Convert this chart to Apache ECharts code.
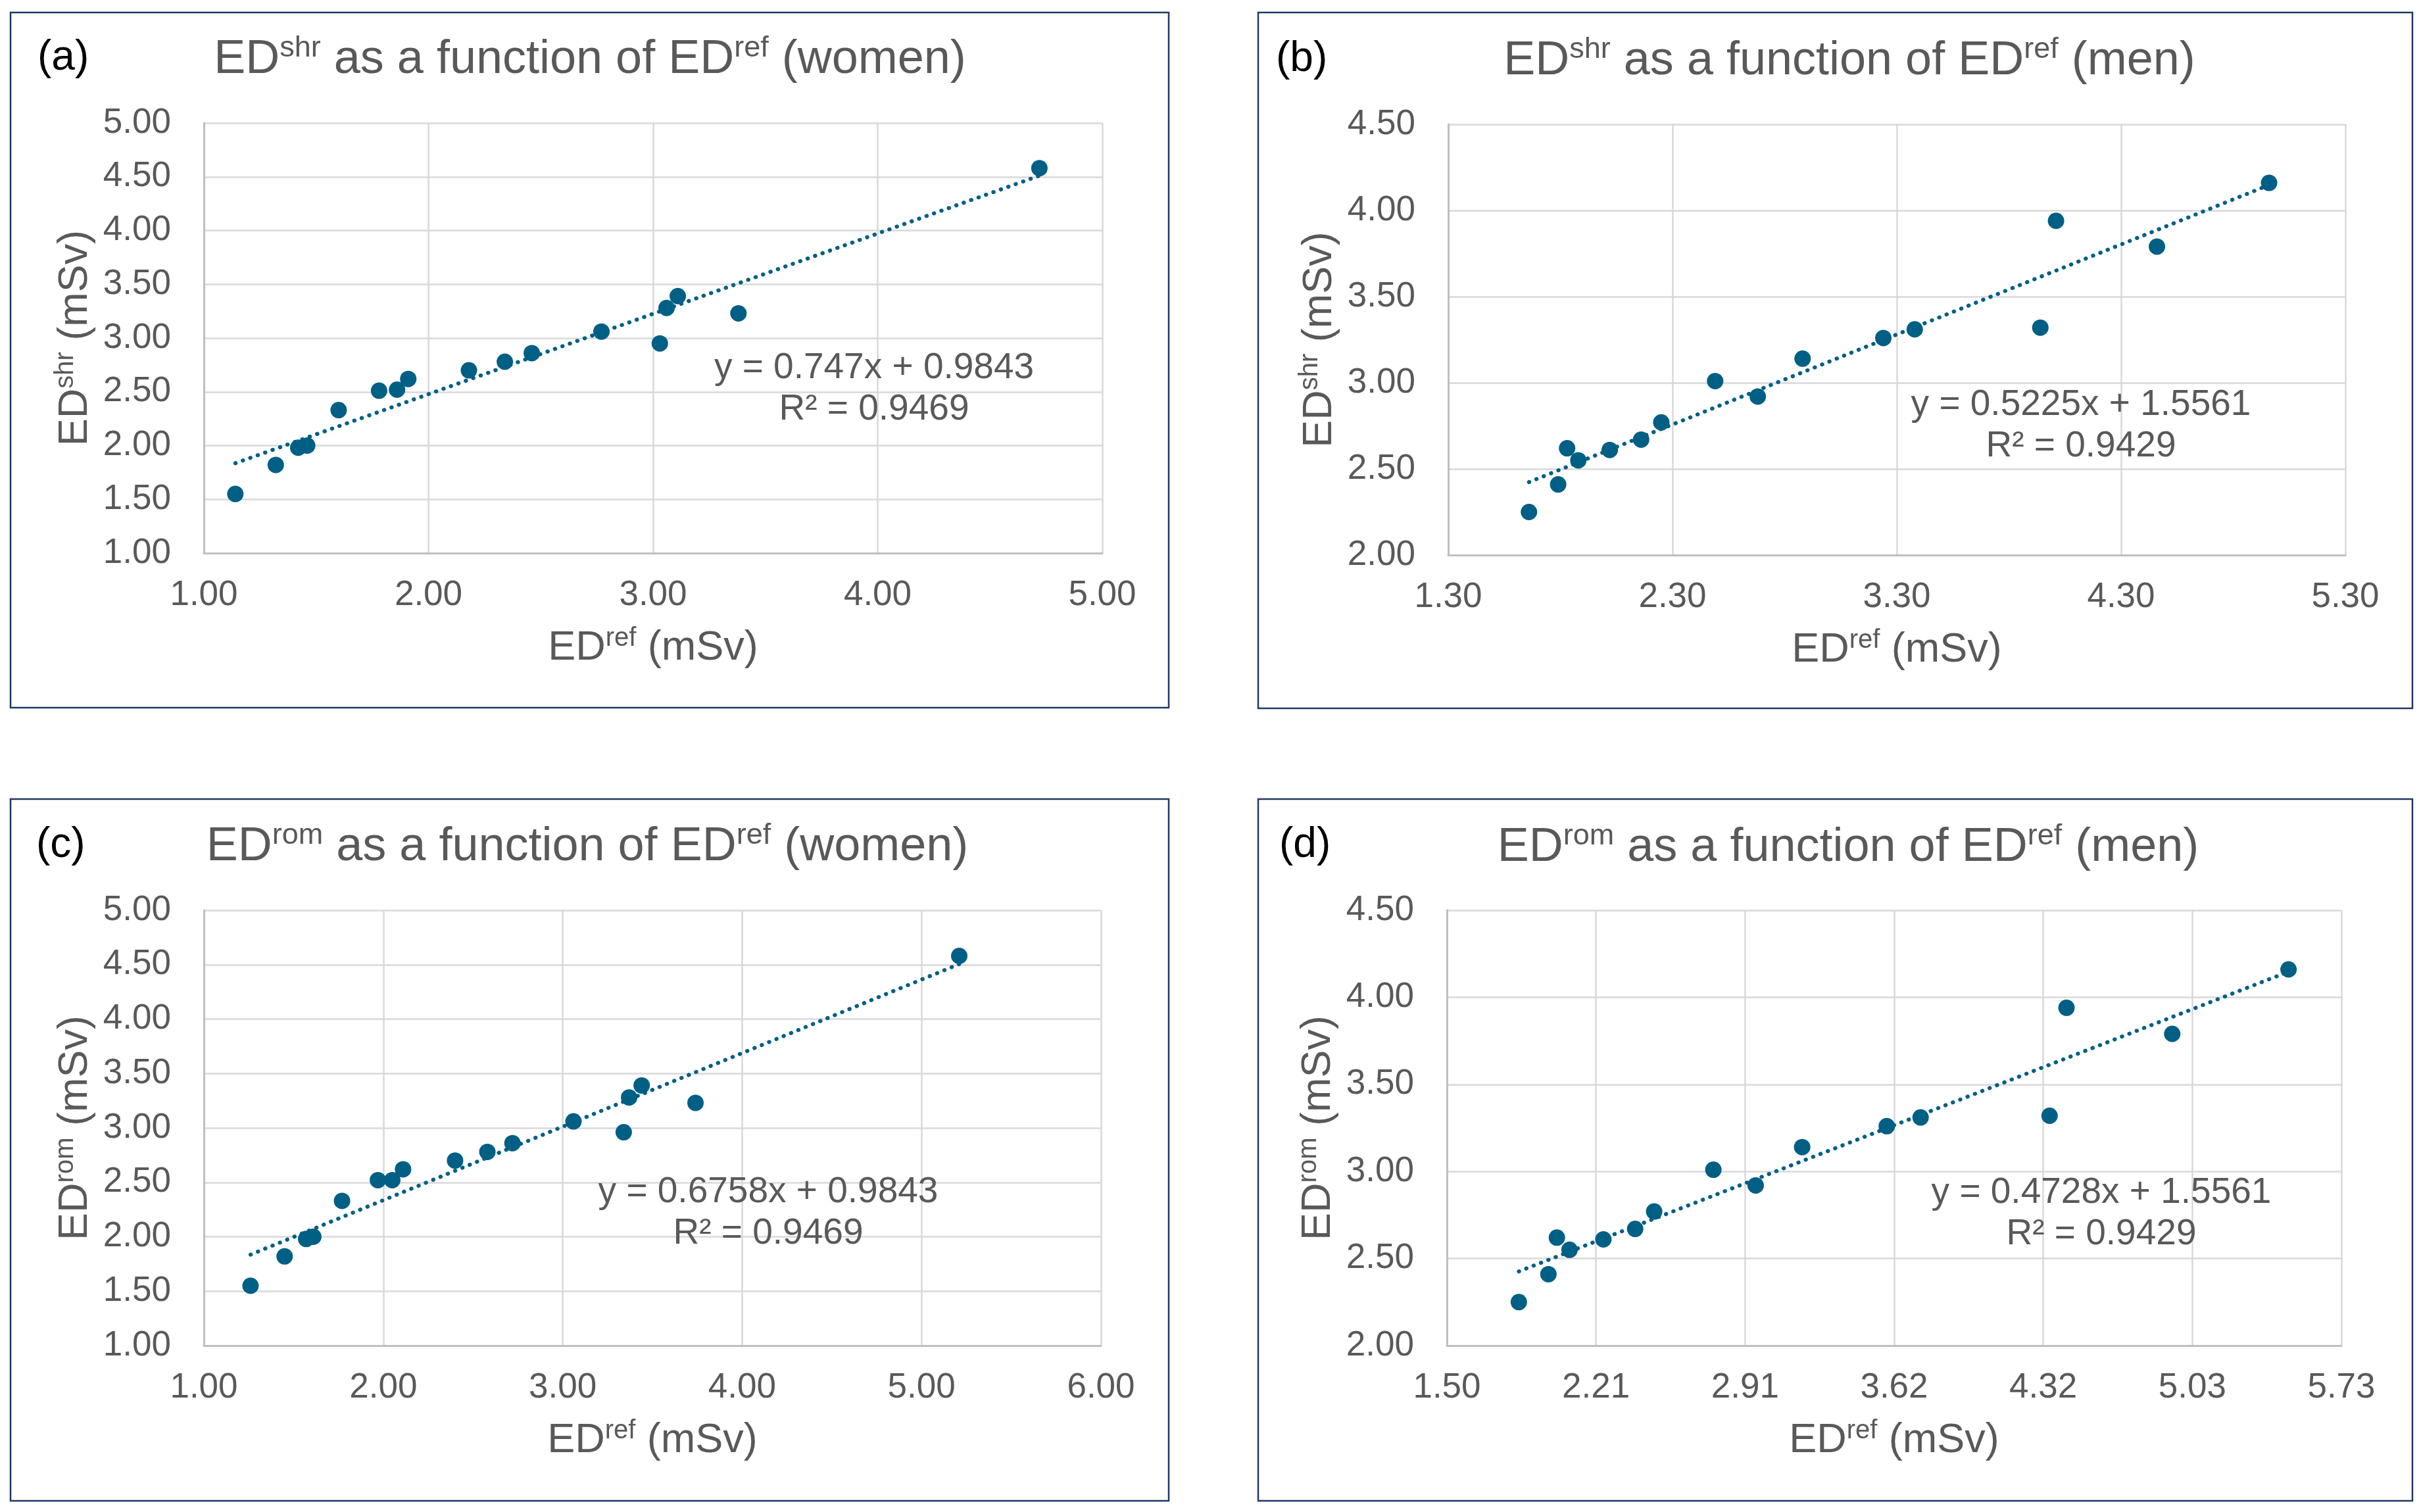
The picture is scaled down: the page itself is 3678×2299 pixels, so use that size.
<!DOCTYPE html>
<html>
<head>
<meta charset="utf-8">
<script src="https://cdn.jsdelivr.net/npm/echarts@6/dist/echarts.min.js"></script>
<style>
html,body{margin:0;padding:0;background:#fff;}
#chart{width:3678px;height:2299px;}
</style>
</head>
<body>
<div id="chart"></div>
<script>
// ---------- data ----------
var aX = [1.14,1.32,1.42,1.46,1.60,1.78,1.86,1.91,2.18,2.34,2.46,2.77,3.03,3.06,3.11,3.38,4.72];
var aY = [1.55,1.82,1.98,2.00,2.33,2.51,2.52,2.62,2.70,2.78,2.86,3.06,2.95,3.28,3.39,3.23,4.58];
var bX = [1.66,1.79,1.83,1.88,2.02,2.16,2.25,2.49,2.68,2.88,3.24,3.38,3.94,4.01,4.46,4.96];
var bY = [2.25,2.41,2.62,2.55,2.61,2.67,2.77,3.01,2.92,3.14,3.26,3.31,3.32,3.94,3.79,4.16];
var cX = [1.26,1.45,1.57,1.61,1.77,1.97,2.05,2.11,2.40,2.58,2.72,3.06,3.34,3.37,3.44,3.74,5.21];
var cY = [1.55,1.82,1.98,2.00,2.33,2.52,2.52,2.62,2.70,2.78,2.86,3.06,2.96,3.28,3.39,3.23,4.58];
var dX = [1.84,1.98,2.02,2.08,2.24,2.39,2.48,2.76,2.96,3.18,3.58,3.74,4.35,4.43,4.93,5.48];
var dY = [2.25,2.41,2.62,2.55,2.61,2.67,2.77,3.01,2.92,3.14,3.26,3.31,3.32,3.94,3.79,4.16];

// trendline coefficients [slope, intercept] and R²
var aTrend = [0.747, 0.9843],  aR2 = '0.9469';
var bTrend = [0.5225, 1.5561], bR2 = '0.9429';
var cTrend = [0.6758, 0.9843], cR2 = '0.9469';
var dTrend = [0.4728, 1.5561], dR2 = '0.9429';

// tick labels
var aXTicks = ['1.00','2.00','3.00','4.00','5.00'];
var aYTicks = ['1.00','1.50','2.00','2.50','3.00','3.50','4.00','4.50','5.00'];
var bXTicks = ['1.30','2.30','3.30','4.30','5.30'];
var bYTicks = ['2.00','2.50','3.00','3.50','4.00','4.50'];
var cXTicks = ['1.00','2.00','3.00','4.00','5.00','6.00'];
var cYTicks = ['1.00','1.50','2.00','2.50','3.00','3.50','4.00','4.50','5.00'];
var dXTicks = ['1.50','2.21','2.91','3.62','4.32','5.03','5.73'];
var dYTicks = ['2.00','2.50','3.00','3.50','4.00','4.50'];

// titles
var titles = [
  ['shr','women'], ['shr','men'], ['rom','women'], ['rom','men']
];
var panelLetters = ['(a)','(b)','(c)','(d)'];

// ---------- styling / layout ----------
var FONT = 'Liberation Sans, Arial, sans-serif';
var TXT = '#595959';
var MARK = '#005F84';
var GRIDC = '#D9D9D9';
var AXC = '#BFBFBF';

var layout = [
  {box:[16,19,1777,1076], grid:{left:310,top:187,width:1366,height:654}, title:[897,91], letter:[57,88], eq:[1329,591]},
  {box:[1913,19,3668,1077], grid:{left:2202,top:189,width:1364,height:655}, title:[2812,93], letter:[1940,90], eq:[3164,647]},
  {box:[16,1215,1777,2282], grid:{left:310,top:1384,width:1364,height:662}, title:[893,1288], letter:[55,1285], eq:[1168,1844]},
  {box:[1913,1215,3668,2282], grid:{left:2200,top:1384,width:1360,height:662}, title:[2810,1289], letter:[1945,1285], eq:[3195,1845]}
];

var sets = [
  {x:aX,y:aY,t:aTrend,r:aR2,xt:aXTicks,yt:aYTicks,ys:'shr'},
  {x:bX,y:bY,t:bTrend,r:bR2,xt:bXTicks,yt:bYTicks,ys:'shr'},
  {x:cX,y:cY,t:cTrend,r:cR2,xt:cXTicks,yt:cYTicks,ys:'rom'},
  {x:dX,y:dY,t:dTrend,r:dR2,xt:dXTicks,yt:dYTicks,ys:'rom'}
];

var richName = {
  m:{fontSize:63,color:TXT,fontFamily:FONT,lineHeight:70},
  s:{fontSize:40,color:TXT,fontFamily:FONT,verticalAlign:'top',lineHeight:50}
};
var richTitle = {
  m:{fontSize:72,fill:TXT,fontFamily:FONT,lineHeight:80},
  s:{fontSize:45,fill:TXT,fontFamily:FONT,verticalAlign:'top',lineHeight:55}
};

var grids=[], xAxes=[], yAxes=[], series=[], graphics=[];

sets.forEach(function(s,i){
  var L = layout[i];
  grids.push(L.grid);
  var xmin = parseFloat(s.xt[0]), xmax = parseFloat(s.xt[s.xt.length-1]);
  var ymin = parseFloat(s.yt[0]), ymax = parseFloat(s.yt[s.yt.length-1]);
  var xt = s.xt, yt = s.yt;
  xAxes.push({
    type:'value', gridIndex:i, min:xmin, max:xmax, interval:(xmax-xmin)/(xt.length-1),
    axisLine:{show:true,onZero:false,lineStyle:{color:AXC,width:3}},
    axisTick:{show:false},
    splitLine:{show:true,lineStyle:{color:GRIDC,width:2.5}},
    axisLabel:{color:TXT,fontSize:53,fontFamily:FONT,margin:38,
      formatter:function(v,idx){ return xt[idx]!==undefined ? xt[idx] : v.toFixed(2); }},
    name:'{m|ED}{s|ref}{m| (mSv)}', nameLocation:'middle', nameGap:110,
    nameTextStyle:{rich:richName}
  });
  yAxes.push({
    type:'value', gridIndex:i, min:ymin, max:ymax, interval:(ymax-ymin)/(yt.length-1),
    axisLine:{show:true,onZero:false,lineStyle:{color:AXC,width:3}},
    axisTick:{show:false},
    splitLine:{show:true,lineStyle:{color:GRIDC,width:2.5}},
    axisLabel:{color:TXT,fontSize:53,fontFamily:FONT,margin:50,
      formatter:function(v,idx){ return yt[idx]!==undefined ? yt[idx] : v.toFixed(2); }},
    name:'{m|ED}{s|'+s.ys+'}{m| (mSv)}', nameLocation:'middle', nameGap:160,
    nameTextStyle:{rich:richName}
  });
  var pts = s.x.map(function(v,k){return [v,s.y[k]];});
  series.push({
    type:'scatter', xAxisIndex:i, yAxisIndex:i, data:pts, symbol:'circle', symbolSize:25,
    itemStyle:{color:MARK,opacity:1}, silent:true, z:2
  });
  var lo = Math.min.apply(null,s.x), hi = Math.max.apply(null,s.x);
  series.push({
    type:'line', xAxisIndex:i, yAxisIndex:i, showSymbol:false, symbol:'none', silent:true, z:3,
    data:[[lo, s.t[0]*lo+s.t[1]],[hi, s.t[0]*hi+s.t[1]]],
    lineStyle:{color:MARK,width:6,type:[0.5,11.5],cap:'round',opacity:1}
  });
  // border
  graphics.push({type:'rect', shape:{x:L.box[0],y:L.box[1],width:L.box[2]-L.box[0],height:L.box[3]-L.box[1]},
    style:{fill:null,stroke:'#1F3864',lineWidth:2.5}, z:10});
  // title
  graphics.push({type:'text', x:L.title[0], y:L.title[1], z:10,
    style:{text:'{m|ED}{s|'+titles[i][0]+'}{m| as a function of ED}{s|ref}{m| ('+titles[i][1]+')}',
      rich:richTitle, fill:TXT, align:'center', verticalAlign:'middle'}});
  // letter
  graphics.push({type:'text', x:L.letter[0], y:L.letter[1], z:10,
    style:{text:panelLetters[i], fill:'#000', font:'64px '+FONT, align:'left', verticalAlign:'middle'}});
  // equation
  var eq = 'y = '+s.t[0]+'x + '+s.t[1]+'\nR\u00B2 = '+s.r;
  graphics.push({type:'text', x:L.eq[0], y:L.eq[1], z:10,
    style:{text:eq, fill:TXT, font:'55px '+FONT, align:'center', verticalAlign:'middle', lineHeight:63}});
});

var chart = echarts.init(document.getElementById('chart'), null, {renderer:'canvas'});
chart.setOption({
  animation:false,
  backgroundColor:'#fff',
  grid:grids, xAxis:xAxes, yAxis:yAxes, series:series, graphic:graphics
});
</script>
</body>
</html>
